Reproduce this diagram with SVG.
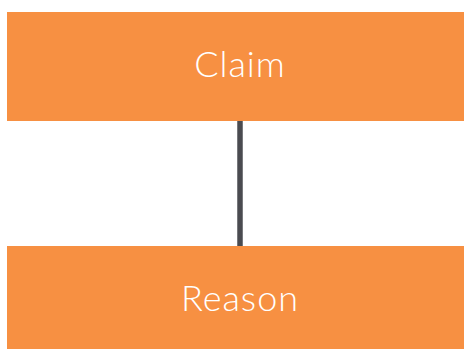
<svg xmlns="http://www.w3.org/2000/svg" width="464" height="349" viewBox="0 0 464 349">
<style>
.box{fill:#F79042}
.lbl{font-family:Lato,"Noto Sans",sans-serif;font-size:36px;font-weight:300;letter-spacing:1px;fill:#ffffff;text-anchor:middle}
.conn{stroke:#4A4B50;stroke-width:5.5;fill:none}
</style>
<rect width="464" height="349" fill="#ffffff"/>
<g id="connectors">
<line class="conn" x1="240" y1="121" x2="240" y2="246"/>
</g>
<g id="claim">
<rect class="box" x="7" y="12" width="457" height="109"/>
<text class="lbl" x="240" y="77">Claim</text>
</g>
<g id="reason">
<rect class="box" x="7" y="246" width="457" height="103"/>
<text class="lbl" x="240" y="311">Reason</text>
</g>
</svg>
